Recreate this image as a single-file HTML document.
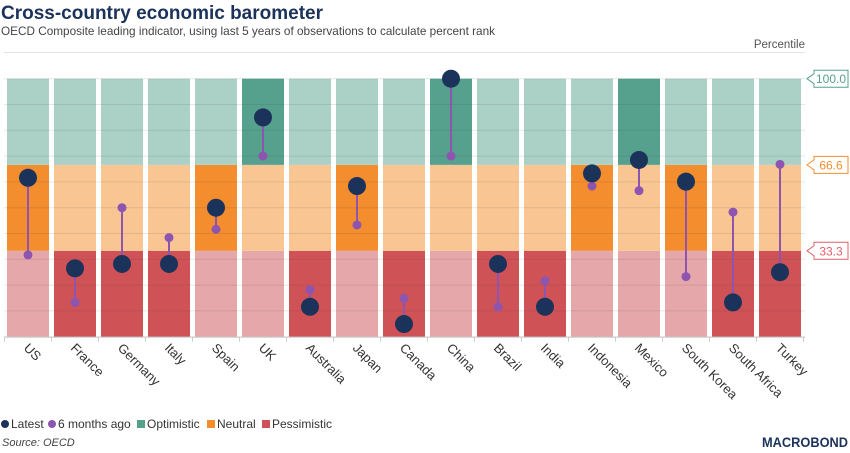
<!DOCTYPE html>
<html><head><meta charset="utf-8"><style>
html,body{margin:0;padding:0;background:#fff;}
svg{display:block;font-family:"Liberation Sans",sans-serif;}
</style></head><body>
<svg id="chart" width="850" height="453" viewBox="0 0 850 453">
<text x="1" y="19" font-size="19" font-weight="bold" fill="#1b325a" textLength="322" lengthAdjust="spacingAndGlyphs">Cross-country economic barometer</text>
<text x="1" y="35" font-size="12" fill="#444" textLength="494" lengthAdjust="spacingAndGlyphs">OECD Composite leading indicator, using last 5 years of observations to calculate percent rank</text>
<text x="805" y="48" font-size="11.5" fill="#555" text-anchor="end">Percentile</text>
<line x1="4" y1="52.5" x2="805" y2="52.5" stroke="#e2e2e2"/>
<g id="bands"></g>
<g id="grid"></g>
<g id="marks"></g>
<g id="xlabels"></g>
<g id="tags"></g>
<g font-size="12" fill="#333">
<circle cx="5" cy="424" r="4" fill="#1b325a"/>
<text x="11" y="428">Latest</text>
<circle cx="52" cy="424" r="4" fill="#8e55b0"/>
<text x="58" y="428">6 months ago</text>
<rect x="137" y="420" width="8" height="8" fill="#56a08e"/>
<text x="147" y="428">Optimistic</text>
<rect x="207" y="420" width="8" height="8" fill="#f48d2e"/>
<text x="217" y="428">Neutral</text>
<rect x="262" y="420" width="8" height="8" fill="#cf5257"/>
<text x="272" y="428">Pessimistic</text>
</g>
<text x="2" y="446" font-size="11" font-style="italic" fill="#444">Source: OECD</text>
<text x="848" y="447" font-size="14" font-weight="bold" fill="#1b325a" text-anchor="end" textLength="86" lengthAdjust="spacingAndGlyphs">MACROBOND</text>
</svg>
<script>
const countries = ["US","France","Germany","Italy","Spain","UK","Australia","Japan","Canada","China","Brazil","India","Indonesia","Mexico","South Korea","South Africa","Turkey"];
const latest = [61.6,26.5,28.2,28.2,50,85,11.6,58.4,4.9,100,28.2,11.6,63.3,68.5,60.1,13.3,25];
const sixMonthsAgo = [31.7,13.3,50,38.4,41.6,70,18.2,43.3,14.9,70,11.6,21.7,58.4,56.6,23.3,48.3,66.8];
const thresholds = [33.3,66.6,100.0];
const yTicks = [0,10,20,30,40,50,60,70,80,90,100];
{
const NS="http://www.w3.org/2000/svg";
const plotTop=78.7, plotBot=336.7, plotLeft=7, step=47, colW=42;
const y = v => plotBot - (v/100)*(plotBot-plotTop);
const xc = i => plotLeft + i*step + colW/2;
function mk(tag, attrs, parent){const e=document.createElementNS(NS,tag);for(const k in attrs)e.setAttribute(k,attrs[k]);parent.appendChild(e);return e;}
const bands=document.getElementById('bands'), grid=document.getElementById('grid'), marks=document.getElementById('marks'), xl=document.getElementById('xlabels'), tags=document.getElementById('tags');
const pale=["#e5a7aa","#f9c693","#abd0c6"], strong=["#cf5257","#f48d2e","#56a08e"], bandNames=["pessimistic","neutral","optimistic"];
const bounds=[0,thresholds[0],thresholds[1],thresholds[2]];
countries.forEach((c,i)=>{
  const v=latest[i];
  const active = v>thresholds[1]?2:(v>thresholds[0]?1:0);
  for(let b=0;b<3;b++){
    const r=mk('rect',{x:plotLeft+i*step,y:y(bounds[b+1]),width:colW,height:y(bounds[b])-y(bounds[b+1]),fill:b===active?strong[b]:pale[b]},bands);
    
    
  }
});
yTicks.forEach(t=>{
  const l=mk('line',{x1:4,x2:805,y1:y(t),y2:y(t),stroke:"rgba(60,60,60,0.12)","stroke-width":1},grid);
  
  
});
const ax=mk('line',{x1:4,x2:805,y1:plotBot+0.5,y2:plotBot+0.5,stroke:"#ccc"},grid);


for(let i=0;i<=countries.length;i++){
  const tx=plotLeft-2.5+i*step;
  const tk=mk('line',{x1:tx,x2:tx,y1:plotBot,y2:plotBot+5,stroke:"#ccc"},grid);
  
  
}
countries.forEach((c,i)=>{
  const x=xc(i);
  const ln=mk('line',{x1:x,x2:x,y1:y(latest[i]),y2:y(sixMonthsAgo[i]),stroke:"#8e55b0","stroke-width":2},marks);
  
  
  const p=mk('circle',{cx:x,cy:y(sixMonthsAgo[i]),r:4.5,fill:"#8e55b0"},marks);
  
  
  const d=mk('circle',{cx:x,cy:y(latest[i]),r:9,fill:"#1b325a"},marks);
  
  
  const t=mk('text',{x:0,y:0,"font-size":13,fill:"#333",transform:`translate(${x-5},${plotBot+12}) rotate(45)`},xl);
  t.textContent=c;
  
  
});
const tagColors=["#e06066","#f48d2e","#56a08e"];
thresholds.forEach((t,k)=>{
  const yy=y(t), col=tagColors[k];
  const g=mk('g',{},tags);
  
  
  mk('path',{d:`M807 ${yy} L814 ${yy-5} L814 ${yy-8.5} L848 ${yy-8.5} L848 ${yy+8.5} L814 ${yy+8.5} L814 ${yy+5} Z`,fill:"#fff",stroke:col,"stroke-width":1},g);
  const tx=mk('text',{x:831,y:yy+4.5,"font-size":12,fill:col,"text-anchor":"middle"},g);
  tx.textContent=t.toFixed(1);
});
}
</script>
</body></html>
